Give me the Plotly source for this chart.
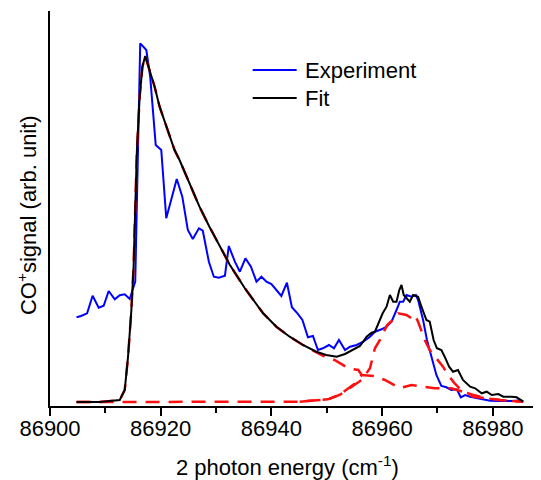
import plotly.graph_objects as go

# experiment (blue)
exp_x = [86904.8, 86905.6, 86906.7, 86907.7, 86908.8, 86909.7, 86910.6, 86911.7, 86912.6, 86913.5,
         86914.4, 86915.4, 86916.3, 86917.4, 86918.1, 86919.1, 86920.1, 86921.0, 86922.9, 86923.9,
         86924.9, 86925.8, 86926.9, 86927.6, 86928.7, 86929.6, 86930.5, 86931.6, 86932.3, 86933.4,
         86934.3, 86935.3, 86936.3, 86937.3, 86938.2, 86939.1, 86940.0, 86940.9, 86941.8, 86942.8,
         86943.7, 86944.7, 86945.6, 86946.6, 86947.5, 86948.4, 86949.3, 86950.4, 86951.3, 86952.2,
         86953.3, 86954.2, 86955.4, 86956.6, 86957.8, 86958.7, 86959.9, 86960.8, 86961.7, 86962.6,
         86963.2, 86963.8, 86964.4, 86965.3, 86966.1, 86966.5, 86967.4, 86968.1, 86968.9, 86969.8,
         86970.7, 86971.6, 86972.5, 86973.5, 86974.2, 86975.0, 86975.9, 86976.8, 86978.0, 86979.5,
         86981.3, 86983.7, 86985.2]
exp_y = [88.7, 90, 92.7, 110.3, 98.3, 100.3, 115, 106.7, 110.7, 111.7,
         107, 124.3, 362.7, 356, 329.3, 261, 256, 187.7, 227, 209.3,
         176, 167, 177.7, 175.3, 144.3, 129.3, 128.3, 130.3, 160, 144.3,
         134.3, 147.7, 139.3, 124.3, 129.3, 124.3, 122, 116, 110, 123.3,
         98.7, 92.7, 86, 68.7, 70, 56, 57.7, 61, 57.7, 66,
         56, 59.3, 61, 64.3, 69.3, 74.3, 76.7, 79.3, 84.3, 96,
         104.3, 104.3, 111, 109.3, 111, 106, 86, 66, 49.3, 31,
         20, 18.7, 16, 16.7, 8.7, 11, 9.3, 8.3, 6.7, 5.3,
         5, 5, 6]

# total fit (black)
fit_x = [86904.8, 86909.0, 86912.6, 86913.5, 86914.1, 86914.7, 86915.1, 86915.4, 86915.7, 86916.2,
         86916.7, 86917.2, 86918.0, 86918.9, 86919.8, 86921.0, 86922.5, 86923.4, 86925.2, 86927.0,
         86928.8, 86930.7, 86932.5, 86935.2, 86936.1, 86938.5, 86940.9, 86943.3, 86945.7, 86948.1,
         86949.9, 86951.8, 86953.3, 86954.8, 86956.0, 86957.2, 86958.1, 86958.7, 86959.3, 86960.1,
         86960.8, 86961.4, 86962.0, 86962.6, 86963.1, 86963.5, 86963.9, 86964.4, 86965.0, 86965.6,
         86966.5, 86967.1, 86968.0, 86968.6, 86969.3, 86969.9, 86970.7, 86971.3, 86972.1, 86972.8,
         86973.7, 86974.6, 86975.9, 86976.8, 86978.0, 86978.9, 86979.8, 86981.0, 86981.9, 86983.4,
         86984.3, 86985.5]
fit_y = [4, 4, 6, 16, 49.3, 96, 139.3, 206, 256, 309.3,
         339.3, 350, 336, 319.3, 299.3, 279.3, 256, 246, 222.7, 199.3,
         179.3, 159.3, 141, 117.7, 111, 92.7, 79.3, 69.3, 61, 54.3,
         51, 49.3, 52, 56.7, 60, 69.3, 73.3, 74.3, 82.7, 92.7,
         99.3, 111, 104.3, 104.3, 116, 121, 111, 107.7, 104.3, 111,
         109.3, 99.3, 86, 84.3, 66, 57.7, 56, 49.3, 39.3, 34.3,
         36, 26, 19.3, 17.7, 12.7, 14.3, 11, 12, 9.3, 9.3,
         8.7, 4.3]

# fit components (red dashed)
c1_x = [86904.8, 86909.0, 86912.6, 86913.5, 86914.1, 86914.7, 86915.1, 86915.4, 86915.7, 86916.2,
        86916.7, 86917.2, 86918.0, 86918.9, 86919.8, 86921.0, 86922.5, 86923.4, 86925.2, 86927.0,
        86928.8, 86930.7, 86932.5, 86935.2, 86936.1, 86938.5, 86940.9, 86943.3, 86945.7, 86948.1,
        86949.6, 86951.4, 86953.9, 86955.7, 86956.3]
c1_y = [4, 4, 6, 16, 49.3, 96, 139.3, 206, 256, 309.3,
        339.3, 350, 336, 319.3, 299.3, 279.3, 256, 246, 222.7, 199.3,
        179.3, 159.3, 141, 117.7, 111, 92.7, 79.3, 69.3, 61, 54.3,
        49.3, 46, 37.7, 36, 31]

c2_x = [86904.8, 86945.1, 86950.2, 86952.3, 86956.3, 86957.8, 86958.7, 86959.6, 86960.9, 86962.3,
        86962.9, 86964.4, 86965.3, 86965.9, 86966.5, 86967.1, 86967.7, 86968.6, 86969.5, 86971.0,
        86971.9, 86973.1, 86974.6, 86976.5, 86978.9, 86981.3, 86985.5]
c2_y = [4, 4.3, 6.7, 11, 26, 37.7, 57.7, 66, 81, 87.7,
        92.7, 91, 87.7, 91, 84.3, 76, 66, 56, 49.3, 39.3,
        31, 22.7, 14.3, 11, 7.7, 6, 4.3]

c3_x = [86945.1, 86950.2, 86952.3, 86955.1, 86956.3, 86958.6, 86960.5, 86961.9, 86963.2, 86965.3,
        86967.4, 86969.5, 86972.5, 86974.6, 86976.5, 86978.9, 86981.3, 86985.4]
c3_y = [4.3, 6.7, 11, 22.7, 31, 30, 26, 22, 18, 21,
        19.3, 17.7, 17.7, 14.3, 9.3, 7.7, 6, 4.3]

FONT = "Liberation Sans, Arial, sans-serif"
RED = "#ff1010"

fig = go.Figure()
fig.add_trace(go.Scatter(x=exp_x, y=exp_y, mode="lines", line=dict(color="#0000ff", width=2)))
for cx, cy in [(c1_x, c1_y), (c2_x, c2_y), (c3_x, c3_y)]:
    fig.add_trace(go.Scatter(x=cx, y=cy, mode="lines",
                             line=dict(color=RED, width=2.5, dash="14px,9px")))
fig.add_trace(go.Scatter(x=fit_x, y=fit_y, mode="lines", line=dict(color="black", width=2)))

# legend drawn by hand (long line samples like the original)
for yy, col, txt in [(0.8506, "#0000ff", "Experiment"), (0.7797, "black", "Fit")]:
    fig.add_shape(type="line", xref="paper", yref="paper", x0=0.4128, x1=0.5024, y0=yy, y1=yy,
                  line=dict(color=col, width=2))
    fig.add_annotation(xref="paper", yref="paper", x=0.5153, y=yy, text=txt, showarrow=False,
                       xanchor="left", yanchor="middle", font=dict(size=22, color="black"))

fig.add_annotation(xref="paper", yref="paper", x=-0.0468, y=0.4835, textangle=-90,
                   text="CO<sup>+</sup>signal (arb. unit)", showarrow=False,
                   xanchor="center", yanchor="middle", font=dict(size=22, color="black"))
fig.add_annotation(xref="paper", yref="paper", x=0.4847, y=-0.152,
                   text="2 photon energy (cm<sup>-1</sup>)", showarrow=False,
                   xanchor="center", yanchor="middle", font=dict(size=22, color="black"))

fig.update_xaxes(range=[86900, 86988.7], dtick=20, tick0=86900, showgrid=False, zeroline=False,
                 showline=True, linecolor="black", linewidth=1.5,
                 ticks="outside", ticklen=8, tickwidth=1.5, tickcolor="black",
                 tickfont=dict(size=22, color="black"), tickformat="d",
                 ticklabelstandoff=-6,
                 minor=dict(dtick=10, tick0=86900, ticks="outside", ticklen=5, tickwidth=1.5,
                            tickcolor="black", showgrid=False))
fig.update_yaxes(range=[0, 395], showgrid=False, zeroline=False, showticklabels=False,
                 showline=True, linecolor="black", linewidth=1.5, ticks="")

# page body has an 8px margin, so the figure is shrunk by that much to land where the original is
fig.update_layout(width=533, height=472, showlegend=False,
                  margin=dict(l=42, r=0, t=3, b=74),
                  plot_bgcolor="white", paper_bgcolor="white",
                  font=dict(family=FONT, color="black"))

fig.write_html("out.html")
